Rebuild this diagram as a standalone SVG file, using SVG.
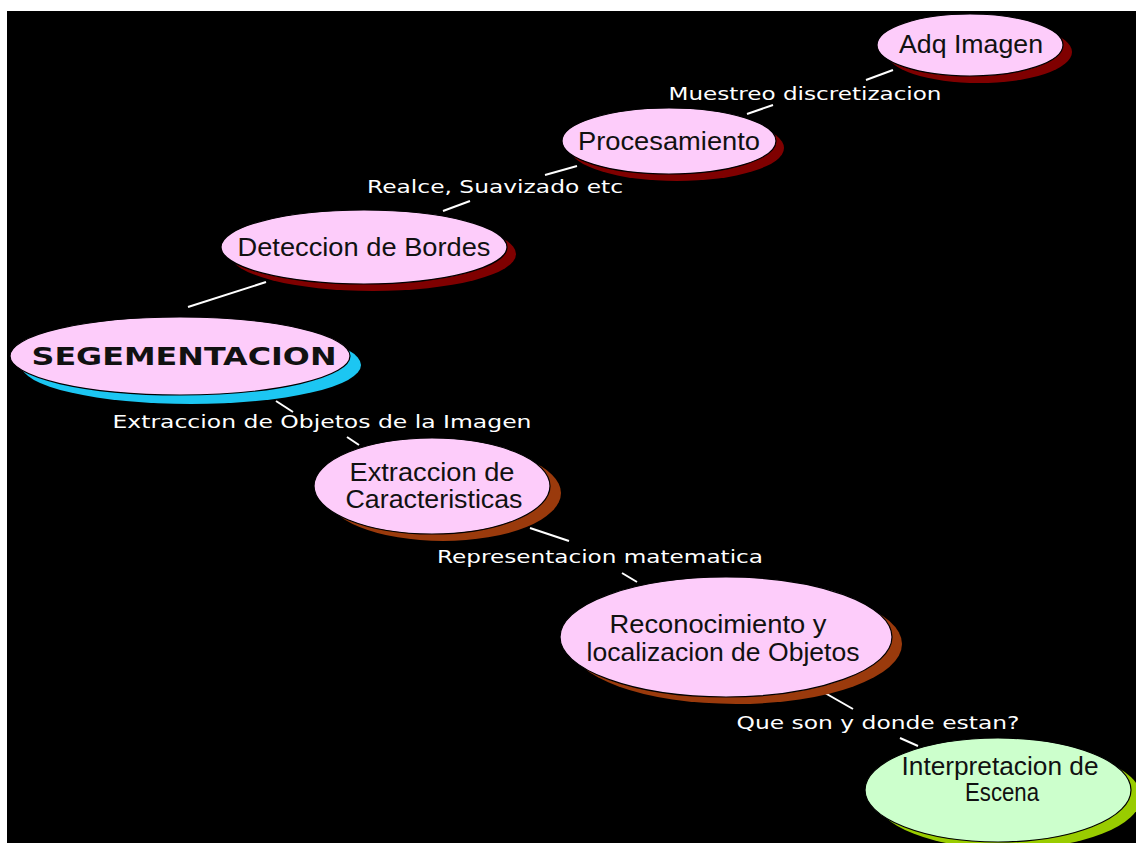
<svg xmlns="http://www.w3.org/2000/svg" width="1136" height="843" viewBox="0 0 1136 843">
  <style>
    .node { stroke: #000; stroke-width: 1.2; }
    .pink { fill: #FDCCFA; }
    .green { fill: #CCFFCC; }
    .sh-red { fill: #7F0000; }
    .sh-cyan { fill: #1CC6F2; }
    .sh-brown { fill: #9A3A0C; }
    .sh-lime { fill: #99CC00; }
    .ntext { font-family: "Liberation Sans", Arial, sans-serif; font-size: 25px; fill: #111; text-anchor: middle; }
    .btext { font-family: "DejaVu Sans", Verdana, sans-serif; font-weight: bold; font-size: 25px; fill: #111; text-anchor: middle; }
    .ltext { font-family: "DejaVu Sans", Verdana, sans-serif; font-size: 18px; fill: #fff; text-anchor: middle; }
    .conn line { stroke: #fff; stroke-width: 2; }
  </style>

  <!-- backdrop -->
  <rect x="0" y="0" width="1136" height="843" fill="#fff"/>
  <rect x="7" y="11" width="1129" height="832" fill="#000"/>

  <!-- connectors -->
  <g id="connectors" class="conn">
    <line x1="866" y1="80" x2="893" y2="70"/>
    <line x1="747" y1="114" x2="773" y2="105"/>
    <line x1="545" y1="175" x2="577" y2="166"/>
    <line x1="443" y1="211" x2="470" y2="201"/>
    <line x1="188" y1="307" x2="266" y2="282"/>
    <line x1="276" y1="401" x2="293" y2="412"/>
    <line x1="347" y1="437" x2="359" y2="445"/>
    <line x1="530" y1="528" x2="569" y2="541"/>
    <line x1="622" y1="573" x2="637" y2="582"/>
    <line x1="825" y1="693" x2="853" y2="709"/>
    <line x1="900" y1="738" x2="918" y2="746"/>
  </g>

  <!-- edge labels -->
  <g id="labels">
    <text class="ltext" x="805" y="100" textLength="273" lengthAdjust="spacingAndGlyphs">Muestreo discretizacion</text>
    <text class="ltext" x="495" y="193" textLength="256" lengthAdjust="spacingAndGlyphs">Realce, Suavizado etc</text>
    <text class="ltext" x="322" y="428" textLength="419" lengthAdjust="spacingAndGlyphs">Extraccion de Objetos de la Imagen</text>
    <text class="ltext" x="600" y="563" textLength="326" lengthAdjust="spacingAndGlyphs">Representacion matematica</text>
    <text class="ltext" x="878" y="729" textLength="283" lengthAdjust="spacingAndGlyphs">Que son y donde estan?</text>
  </g>

  <g id="node-adq">
    <ellipse class="sh-red" cx="979" cy="52" rx="93" ry="31"/>
    <ellipse class="node pink" cx="970" cy="45" rx="93" ry="31"/>
    <text class="ntext" x="971" y="53" textLength="144" lengthAdjust="spacingAndGlyphs">Adq Imagen</text>
  </g>

  <g id="node-procesamiento">
    <ellipse class="sh-red" cx="677" cy="148" rx="107" ry="33"/>
    <ellipse class="node pink" cx="669" cy="141" rx="107" ry="33"/>
    <text class="ntext" x="669" y="150" textLength="182" lengthAdjust="spacingAndGlyphs">Procesamiento</text>
  </g>

  <g id="node-bordes">
    <ellipse class="sh-red" cx="373" cy="254" rx="143" ry="37"/>
    <ellipse class="node pink" cx="364" cy="247" rx="143" ry="37"/>
    <text class="ntext" x="364" y="256" textLength="253" lengthAdjust="spacingAndGlyphs">Deteccion de Bordes</text>
  </g>

  <g id="node-segmentacion">
    <ellipse class="sh-cyan" cx="191" cy="365" rx="170" ry="39"/>
    <ellipse class="node pink" cx="180" cy="356" rx="170" ry="39"/>
    <text class="btext" x="184" y="365" textLength="305" lengthAdjust="spacingAndGlyphs">SEGEMENTACION</text>
  </g>

  <g id="node-caracteristicas">
    <ellipse class="sh-brown" cx="443" cy="493" rx="118" ry="48"/>
    <ellipse class="node pink" cx="432" cy="486" rx="118" ry="48"/>
    <text class="ntext" x="432" y="481" textLength="165" lengthAdjust="spacingAndGlyphs">Extraccion de</text>
    <text class="ntext" x="434" y="508" textLength="177" lengthAdjust="spacingAndGlyphs">Caracteristicas</text>
  </g>

  <g id="node-reconocimiento">
    <ellipse class="sh-brown" cx="736" cy="644" rx="166" ry="60"/>
    <ellipse class="node pink" cx="726" cy="637" rx="166" ry="60"/>
    <text class="ntext" x="718" y="633" textLength="217" lengthAdjust="spacingAndGlyphs">Reconocimiento y</text>
    <text class="ntext" x="723" y="661" textLength="273" lengthAdjust="spacingAndGlyphs">localizacion de Objetos</text>
  </g>

  <g id="node-interpretacion">
    <ellipse class="sh-lime" cx="1008" cy="797" rx="133" ry="52"/>
    <ellipse class="node green" cx="998" cy="790" rx="133" ry="52"/>
    <text class="ntext" x="1000" y="775" textLength="197" lengthAdjust="spacingAndGlyphs">Interpretacion de</text>
    <text class="ntext" x="1002" y="801" textLength="74" lengthAdjust="spacingAndGlyphs">Escena</text>
  </g>
</svg>
